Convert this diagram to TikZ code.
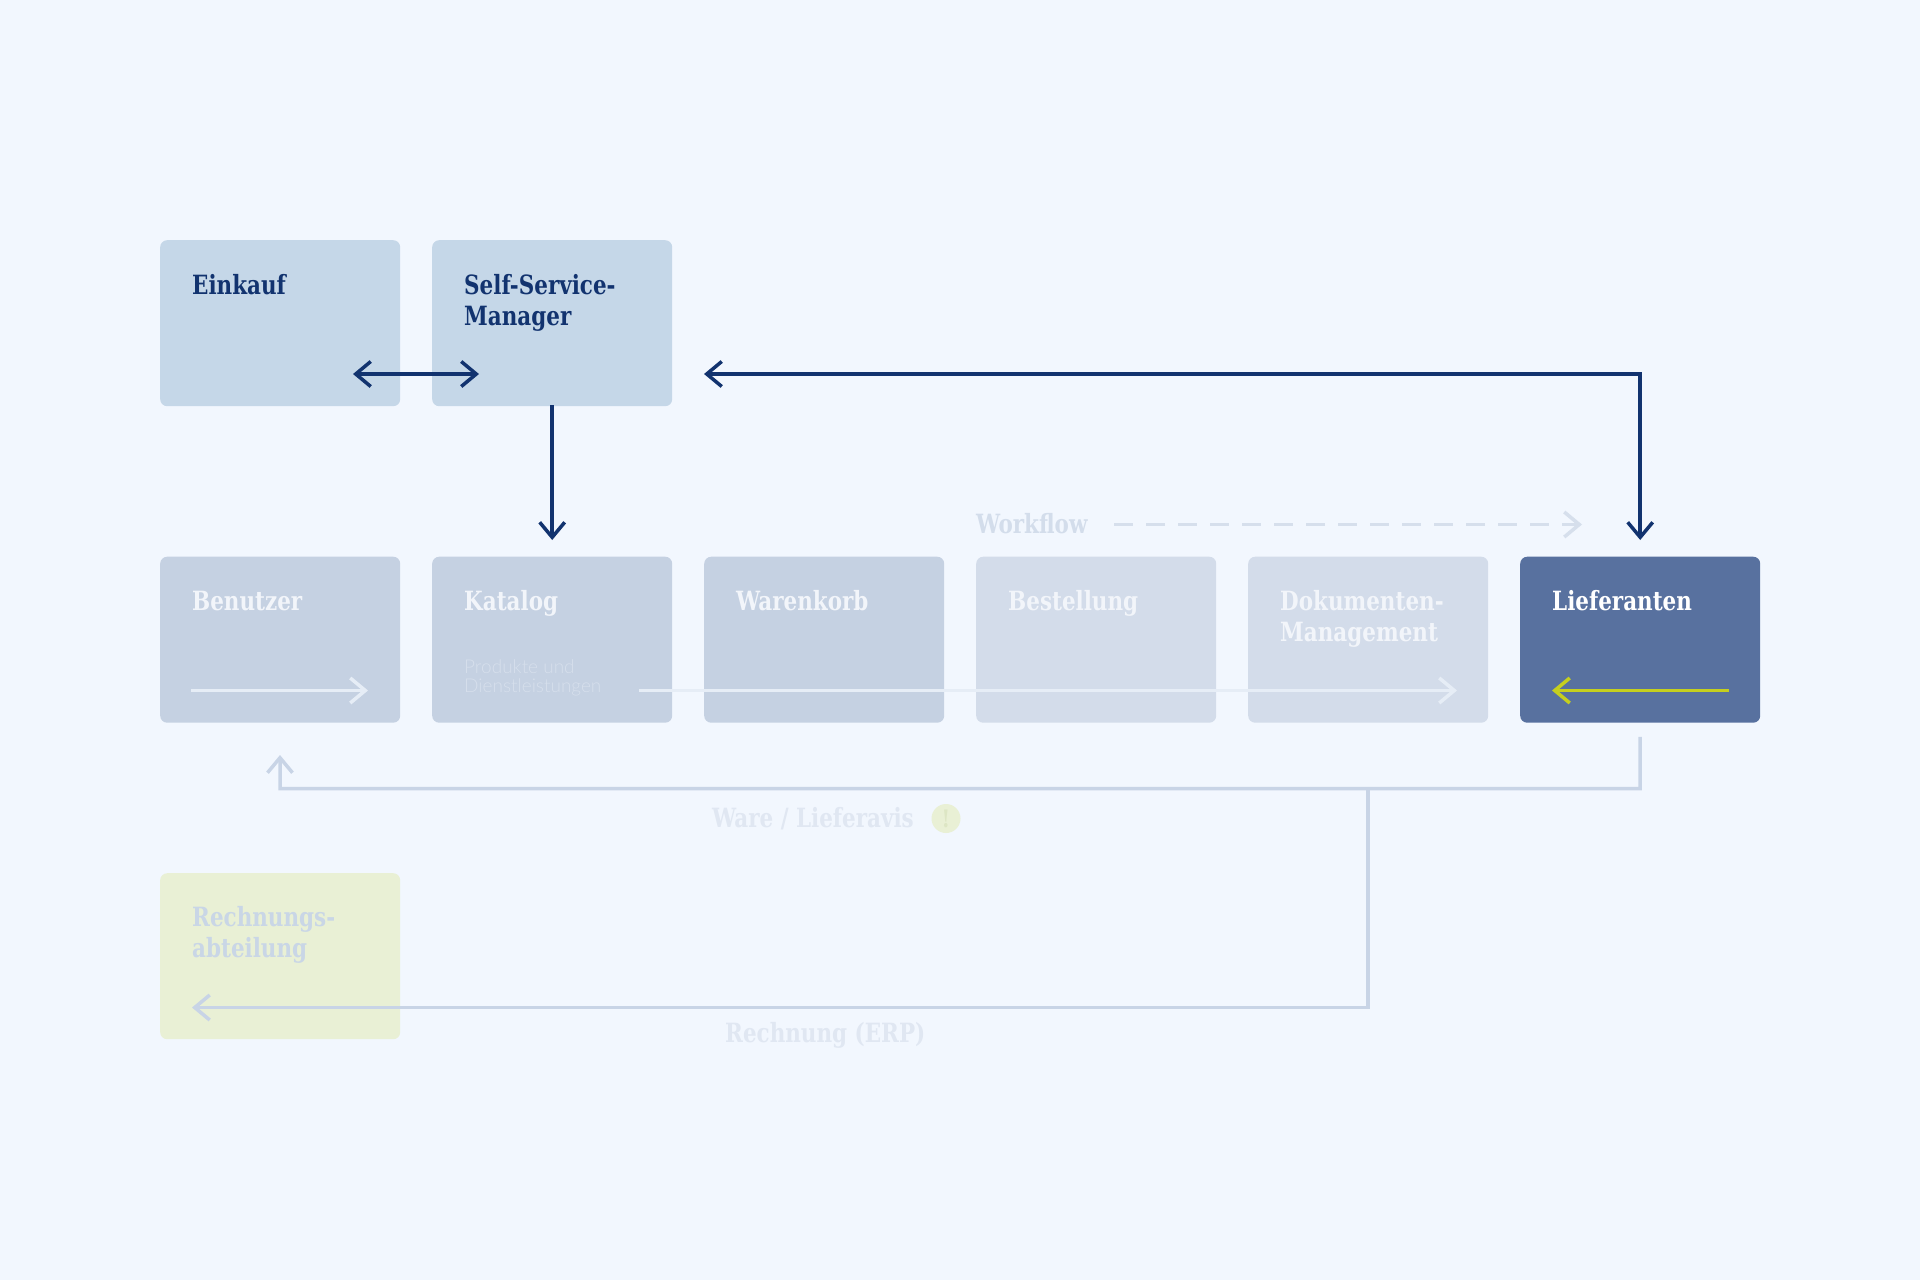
\documentclass[tikz,border=0pt]{standalone}
\usepackage{fontspec}
\usetikzlibrary{arrows.meta}
\setmainfont{DejaVu Serif}
\newfontfamily\slab[FakeStretch=0.81]{DejaVu Serif Bold}
\newfontfamily\thinfont{Lato Light}
\definecolor{bgc}{HTML}{F2F7FE}
\definecolor{topbox}{HTML}{C5D7E8}
\definecolor{midbox}{HTML}{C5D1E2}
\definecolor{palebox}{HTML}{D3DCEA}
\definecolor{liefbox}{HTML}{58719F}
\definecolor{yelbox}{HTML}{E9F0D5}
\definecolor{navy}{HTML}{12336F}
\definecolor{yel}{HTML}{C5CF1E}
\definecolor{greyline}{HTML}{C8D4E6}
\definecolor{dashc}{HTML}{D6DFEC}
\definecolor{wlabel}{HTML}{D3DDEB}
\definecolor{flabel}{HTML}{E0E7F2}
\definecolor{whiteln}{HTML}{E6EDF6}
\definecolor{boxtext}{HTML}{F2F5FA}
\definecolor{rtext}{HTML}{C9D6E6}
\definecolor{excl}{HTML}{DDE6C4}
\definecolor{thintext}{HTML}{D6DFEC}
\tikzset{
  box/.style={anchor=north west,rounded corners=7pt,minimum width=240pt,minimum height=166pt,inner sep=0pt},
  boxlabel/.style={anchor=north west,align=left,inner sep=0pt,font=\slab\fontsize{26.5}{31}\selectfont},
  sidelabel/.style={anchor=base west,inner sep=0pt,font=\slab\fontsize{26.5}{31}\selectfont},
  arr/.style={line width=3.5pt,-{Straight Barb[length=15pt,width=25pt,line width=3.5pt]}},
  darr/.style={line width=3.5pt,{Straight Barb[length=15pt,width=25pt,line width=3.5pt]}-{Straight Barb[length=15pt,width=25pt,line width=3.5pt]}}
}
\newcommand{\fs}{\rule{0pt}{20pt}}
\begin{document}
\begin{tikzpicture}[x=1pt,y=-1pt]
\useasboundingbox (0,0) rectangle (1920,1280);
\fill[bgc] (0,0) rectangle (1920,1280);
% boxes
\node[box,fill=topbox] (einkauf) at (160,240) {};
\node[box,fill=topbox] (self) at (432,240) {};
\node[box,fill=midbox] (benutzer) at (160,556.5) {};
\node[box,fill=midbox] (katalog) at (432,556.5) {};
\node[box,fill=midbox] (warenkorb) at (704,556.5) {};
\node[box,fill=palebox] (bestellung) at (976,556.5) {};
\node[box,fill=palebox] (dokument) at (1248,556.5) {};
\node[box,fill=liefbox] (liefer) at (1520,556.5) {};
\node[box,fill=yelbox] (rechnung) at (160,873) {};
% box labels
\node[boxlabel,text=navy] (l1) at (192,274) {\fs Einkauf};
\node[boxlabel,text=navy] (l2) at (464,274) {\fs Self-Service-\\Manager};
\node[boxlabel,text=boxtext] (l3) at (192,590) {\fs Benutzer};
\node[boxlabel,text=boxtext] (l4) at (464,590) {\fs Katalog};
\node[boxlabel,text=boxtext] (l5) at (736,590) {\fs Warenkorb};
\node[boxlabel,text=boxtext] (l6) at (1008,590) {\fs Bestellung};
\node[boxlabel,text=boxtext] (l7) at (1280,590) {\fs Dokumenten-\\Management};
\node[boxlabel,text=white] (l8) at (1552,590) {\fs Lieferanten};
\node[boxlabel,text=rtext] (l9) at (192,906) {\fs Rechnungs-\\abteilung};
\node[anchor=north west,align=left,inner sep=0pt,text=thintext,font=\thinfont\fontsize{19}{19.5}\selectfont] (prod) at (464,659) {\rule{0pt}{14pt}Produkte und\\Dienstleistungen};
% side labels
\node[sidelabel,text=wlabel] (workflow) at (976,533) {Workflow};
\node[sidelabel,text=flabel] (ware) at (712,827) {Ware / Lieferavis};
\node[sidelabel,text=flabel] (rerp) at (725,1042) {Rechnung (ERP)};
\node[circle,fill=yelbox,minimum size=29pt,inner sep=0pt,text=excl,font=\slab\fontsize{24}{24}\selectfont] (warn) at (946,818.5) {!};
% free ends
\coordinate (dblL) at (353,374);
\coordinate (dblR) at (479,374);
\coordinate (longL) at (704,374);
\coordinate (wfA) at (1114,524.5);
\coordinate (wfB) at (1582,524.5);
\coordinate (w1A) at (191,690.5);
\coordinate (w1B) at (368,690.5);
\coordinate (w2A) at (639,690.5);
\coordinate (w2B) at (1457,690.5);
\coordinate (yA) at (1729,690.5);
\coordinate (yB) at (1552,690.5);
\coordinate (busR) at (1640,788.5);
\coordinate (busL) at (280,788.5);
\coordinate (busTip) at (280,755);
\coordinate (junc) at (1368,788.5);
\coordinate (invC) at (1368,1007.5);
\coordinate (invTip) at (192,1007.5);
% connectors
\draw[arr,whiteln] (w1A) -- (w1B);
\draw[arr,whiteln] (w2A) -- (w2B);
\draw[arr,yel] (yA) -- (yB);
\draw[arr,dashc,dash pattern=on 19pt off 13pt] (wfA) -- (wfB);
\draw[darr,navy] (dblL) -- (dblR);
\draw[arr,navy] ([yshift=1pt]self.south) -- ([yshift=16.5pt]katalog.north);
\draw[darr,navy] (longL) -| ([yshift=16.5pt]liefer.north);
\draw[arr,greyline] ([yshift=-14pt]liefer.south) -- (busR) -- (busL) -- (busTip);
\draw[arr,greyline] (junc) -- (invC) -- (invTip);
\end{tikzpicture}
\end{document}
